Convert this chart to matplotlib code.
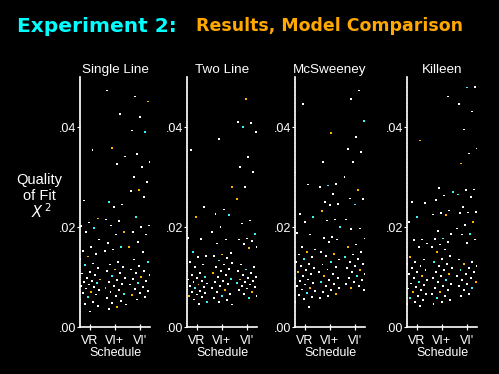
import matplotlib
matplotlib.use("Agg")
import matplotlib.pyplot as plt
import numpy as np

plt.rcParams['font.family'] = ['Liberation Sans', 'DejaVu Sans']

schedules = ["VR", "VI+", "VI'"]
models = ["Single Line", "Two Line", "McSweeney", "Killeen"]
yticks = [0.00, 0.02, 0.04]
ytick_labels = [".00", ".02", ".04"]

single_vr = [0.0362, 0.0354, 0.0253, 0.0217, 0.0209, 0.0202, 0.0198, 0.019, 0.0175, 0.016, 0.0152, 0.0146, 0.0141, 0.0136, 0.0127, 0.0124, 0.0118, 0.0110, 0.0107, 0.0104, 0.0098, 0.0095, 0.0092, 0.0090, 0.0088, 0.0085, 0.0082, 0.0080, 0.0077, 0.0074, 0.0070, 0.0068, 0.0065, 0.0060, 0.0055, 0.0050, 0.0046, 0.0042, 0.0031]
single_vip = [0.0473, 0.0426, 0.0358, 0.0341, 0.0326, 0.0250, 0.0245, 0.0240, 0.0215, 0.0212, 0.0203, 0.0190, 0.0185, 0.0168, 0.0160, 0.0155, 0.0152, 0.0130, 0.0125, 0.0120, 0.0115, 0.0112, 0.0108, 0.0102, 0.0098, 0.0094, 0.0090, 0.0086, 0.0082, 0.0078, 0.0074, 0.0070, 0.0066, 0.0062, 0.0058, 0.0052, 0.0048, 0.0045, 0.0040, 0.0036]
single_vii = [0.0461, 0.0451, 0.0420, 0.0393, 0.0390, 0.0346, 0.0330, 0.0320, 0.0300, 0.0290, 0.0274, 0.0272, 0.0260, 0.0220, 0.0203, 0.0200, 0.0190, 0.0185, 0.0170, 0.0160, 0.0150, 0.0135, 0.0130, 0.0122, 0.0115, 0.0112, 0.0108, 0.0104, 0.0100, 0.0096, 0.0092, 0.0088, 0.0085, 0.0080, 0.0076, 0.0072, 0.0068, 0.0064, 0.0060, 0.0055]

two_vr = [0.0354, 0.0240, 0.0220, 0.0178, 0.0176, 0.0150, 0.0142, 0.0140, 0.0130, 0.0125, 0.0120, 0.0112, 0.0108, 0.0104, 0.0100, 0.0098, 0.0095, 0.0092, 0.0090, 0.0087, 0.0085, 0.0082, 0.0080, 0.0078, 0.0075, 0.0072, 0.0070, 0.0068, 0.0065, 0.0062, 0.0060, 0.0055, 0.0050, 0.0046]
two_vip = [0.0376, 0.0280, 0.0235, 0.0226, 0.0224, 0.0200, 0.0190, 0.0175, 0.0167, 0.0148, 0.0145, 0.0142, 0.0138, 0.0133, 0.0128, 0.0125, 0.0120, 0.0116, 0.0112, 0.0108, 0.0104, 0.0100, 0.0096, 0.0092, 0.0090, 0.0086, 0.0082, 0.0078, 0.0074, 0.0070, 0.0066, 0.0062, 0.0058, 0.0054, 0.0050, 0.0045]
two_vii = [0.0456, 0.0410, 0.0408, 0.0400, 0.0390, 0.0340, 0.0320, 0.0310, 0.0280, 0.0256, 0.0213, 0.0207, 0.0186, 0.0177, 0.0175, 0.0172, 0.0166, 0.0160, 0.0158, 0.0125, 0.0120, 0.0115, 0.0112, 0.0108, 0.0104, 0.0100, 0.0098, 0.0095, 0.0092, 0.0090, 0.0088, 0.0085, 0.0082, 0.0080, 0.0077, 0.0074, 0.0070, 0.0066, 0.0062, 0.0058]

mcs_vr = [0.0446, 0.0309, 0.0285, 0.0226, 0.0220, 0.0210, 0.0188, 0.0185, 0.0160, 0.0155, 0.0150, 0.0145, 0.0140, 0.0136, 0.0130, 0.0126, 0.0122, 0.0118, 0.0114, 0.0110, 0.0106, 0.0102, 0.0098, 0.0095, 0.0092, 0.0088, 0.0085, 0.0082, 0.0078, 0.0075, 0.0072, 0.0068, 0.0064, 0.0060, 0.0056, 0.0050, 0.0040]
mcs_vip = [0.0388, 0.0330, 0.0286, 0.0283, 0.0280, 0.0266, 0.0250, 0.0246, 0.0244, 0.0232, 0.0215, 0.0213, 0.0200, 0.0180, 0.0178, 0.0175, 0.0170, 0.0150, 0.0146, 0.0142, 0.0135, 0.0130, 0.0125, 0.0120, 0.0115, 0.0110, 0.0106, 0.0102, 0.0098, 0.0094, 0.0090, 0.0086, 0.0082, 0.0078, 0.0074, 0.0070, 0.0066, 0.0062, 0.0058]
mcs_vii = [0.0473, 0.0456, 0.0412, 0.0380, 0.0356, 0.0350, 0.0330, 0.0300, 0.0274, 0.0257, 0.0256, 0.0245, 0.0215, 0.0197, 0.0196, 0.0177, 0.0165, 0.0160, 0.0150, 0.0145, 0.0140, 0.0136, 0.0130, 0.0126, 0.0122, 0.0118, 0.0114, 0.0110, 0.0106, 0.0102, 0.0098, 0.0094, 0.0090, 0.0086, 0.0082, 0.0078, 0.0074]

kil_vr = [0.0373, 0.0250, 0.0248, 0.0220, 0.0210, 0.0175, 0.0174, 0.0167, 0.0160, 0.0140, 0.0135, 0.0130, 0.0126, 0.0122, 0.0118, 0.0114, 0.0110, 0.0106, 0.0102, 0.0098, 0.0094, 0.0090, 0.0087, 0.0084, 0.0080, 0.0077, 0.0074, 0.0070, 0.0066, 0.0062, 0.0058, 0.0054, 0.0050, 0.0046, 0.0042]
kil_vip = [0.0461, 0.0278, 0.0270, 0.0263, 0.0254, 0.0233, 0.0228, 0.0225, 0.0224, 0.0192, 0.0186, 0.0177, 0.0176, 0.0170, 0.0165, 0.0160, 0.0155, 0.0150, 0.0142, 0.0136, 0.0130, 0.0126, 0.0122, 0.0118, 0.0114, 0.0110, 0.0106, 0.0102, 0.0098, 0.0094, 0.0090, 0.0086, 0.0082, 0.0078, 0.0074, 0.0070, 0.0066, 0.0062, 0.0058, 0.0054, 0.0050, 0.0046]
kil_vii = [0.0480, 0.0479, 0.0446, 0.0431, 0.0395, 0.0357, 0.0347, 0.0327, 0.0275, 0.0274, 0.0265, 0.0260, 0.0240, 0.0230, 0.0229, 0.0228, 0.0210, 0.0204, 0.0197, 0.0186, 0.0185, 0.0175, 0.0168, 0.0135, 0.0130, 0.0126, 0.0122, 0.0118, 0.0114, 0.0110, 0.0106, 0.0102, 0.0098, 0.0094, 0.0090, 0.0086, 0.0082, 0.0078, 0.0074, 0.0070, 0.0066, 0.0062]

data = [
    [single_vr, single_vip, single_vii],
    [two_vr, two_vip, two_vii],
    [mcs_vr, mcs_vip, mcs_vii],
    [kil_vr, kil_vip, kil_vii],
]

W, H = 499, 374
fig = plt.figure(figsize=(W / 100, H / 100), dpi=100, facecolor='black')

lefts = [80, 187, 295, 407]
ax_w = 70
ax_top, ax_bot = 77, 327
dot_colors = ['white', 'white', 'white', '#ffb000', 'white', 'white', '#40f0ff', 'white', 'white']

for k, (name, groups) in enumerate(zip(models, data)):
    ax = fig.add_axes([lefts[k] / W, 1 - ax_bot / H, ax_w / W, (ax_bot - ax_top) / H])
    ax.set_facecolor('black')
    for g, vals in enumerate(groups):
        vals = np.asarray(vals)
        n = len(vals)
        idx = np.arange(n)
        jit = ((idx * 0.6180339887 + 0.13 * g + 0.21 * k) % 1.0 - 0.5) * 0.85
        cols = [dot_colors[(i + g + k) % len(dot_colors)] for i in range(n)]
        ax.scatter(g + jit, vals, s=2.0, marker='s', c=cols, linewidths=0)
    ax.set_xlim(-0.4, 2.4)
    ax.set_ylim(0, 0.05)
    ax.set_xticks(range(3))
    ax.set_xticklabels(schedules, color='white', fontsize=9)
    ax.set_yticks(yticks)
    ax.set_yticklabels(ytick_labels, color='white', fontsize=9)
    ax.set_yticks(np.arange(0, 0.0501, 0.0004), minor=True)
    ax.tick_params(axis='y', which='minor', length=1.0, width=0.5, color='white', direction='out')
    ax.tick_params(axis='y', which='major', length=2, width=0.8, color='white', direction='out', pad=1)
    ax.tick_params(axis='x', which='major', length=5, width=0.9, color='white', direction='inout', pad=3.5)
    for s in ['top', 'right']:
        ax.spines[s].set_visible(False)
    for s in ['left', 'bottom']:
        ax.spines[s].set_color('white')
        ax.spines[s].set_linewidth(1.2)
    ax.set_title(name, color='white', fontsize=9.7, pad=3)
    ax.set_xlabel('Schedule', color='white', fontsize=9, labelpad=0)

fig.text(17 / W, 1 - 26 / H, 'Experiment 2:', color='#00ffff', fontsize=14.5,
         fontweight='bold', family='DejaVu Sans', ha='left', va='center')
fig.text(196 / W, 1 - 26 / H, 'Results, Model Comparison', color='#ffa800', fontsize=12.5,
         fontweight='bold', family='DejaVu Sans', ha='left', va='center')
fig.text(39 / W, 1 - 180 / H, 'Quality', color='white', fontsize=10.5,
         ha='center', va='center')
fig.text(39 / W, 1 - 196 / H, 'of Fit', color='white', fontsize=10.5,
         ha='center', va='center')
fig.text(41 / W, 1 - 212 / H, r'$\mathit{X}^{\,2}$', color='white', fontsize=10.5,
         ha='center', va='center')

fig.savefig('out.png', dpi=100, facecolor='black')
